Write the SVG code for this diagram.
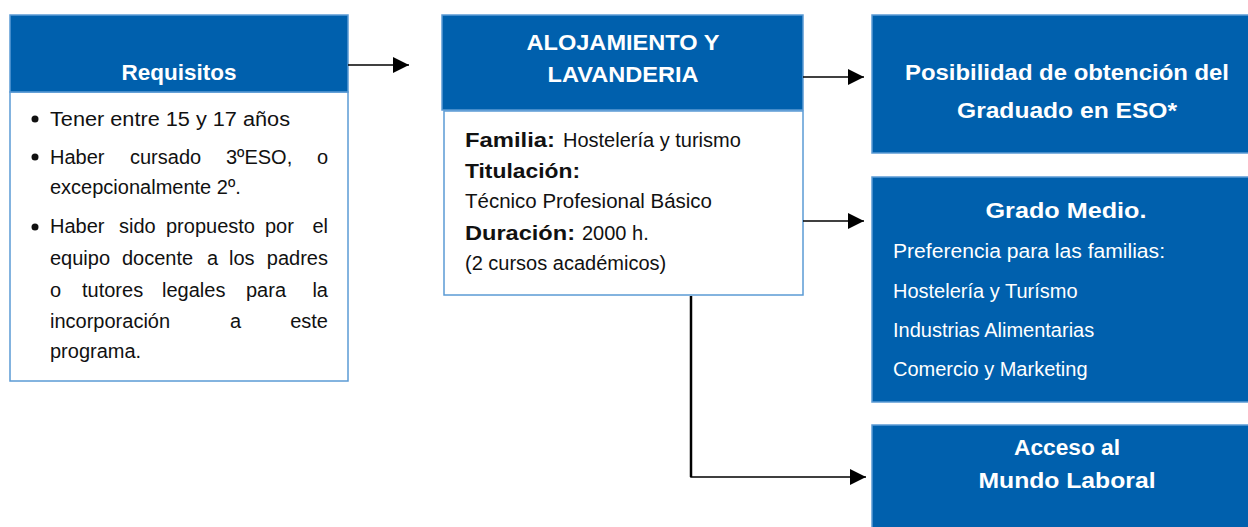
<svg xmlns="http://www.w3.org/2000/svg" width="1248" height="527" viewBox="0 0 1248 527">
<style>
.hdr{fill:#0060ad;stroke:#5b9bd5;stroke-width:1.5}
.body{fill:#ffffff;stroke:#5b9bd5;stroke-width:1.5}
.t{font-family:"Liberation Sans",Arial,sans-serif;font-size:20px;fill:#111111}
.b{font-weight:bold}
.w{fill:#ffffff}
.h{font-family:"Liberation Sans",Arial,sans-serif;font-weight:bold;font-size:22px;fill:#ffffff;text-anchor:middle}
.c{stroke:#000000;stroke-width:1.5;fill:none}
</style>
<defs>
<marker id="ah" markerUnits="userSpaceOnUse" markerWidth="16" markerHeight="16" refX="16" refY="8" orient="auto">
<path d="M0,0 L16,8 L0,16 z" fill="#000000"/>
</marker>
</defs>
<rect width="1248" height="527" fill="#ffffff"/>

<g id="requisitos">
<rect class="body" x="10" y="92" width="338" height="289"/>
<rect class="hdr" x="10" y="15" width="338" height="77"/>
<text class="h" x="179" y="80" textLength="115" lengthAdjust="spacingAndGlyphs">Requisitos</text>
<g fill="#111111">
<circle cx="35" cy="119" r="3.5"/>
<circle cx="35" cy="157" r="3.5"/>
<circle cx="35" cy="227" r="3.5"/>
</g>
<text class="t" x="50" y="126" textLength="240" lengthAdjust="spacingAndGlyphs">Tener entre 15 y 17 años</text>
<text class="t" y="164"><tspan x="50">Haber</tspan><tspan x="130">cursado</tspan><tspan x="226">3ºESO,</tspan><tspan x="328" text-anchor="end">o</tspan></text>
<text class="t" x="50" y="194">excepcionalmente 2º.</text>
<text class="t" y="233"><tspan x="50">Haber</tspan><tspan x="119">sido</tspan><tspan x="166">propuesto</tspan><tspan x="265">por</tspan><tspan x="328" text-anchor="end">el</tspan></text>
<text class="t" y="265"><tspan x="50">equipo</tspan><tspan x="122">docente</tspan><tspan x="207">a</tspan><tspan x="229">los</tspan><tspan x="328" text-anchor="end">padres</tspan></text>
<text class="t" y="297"><tspan x="50">o</tspan><tspan x="82">tutores</tspan><tspan x="162">legales</tspan><tspan x="246">para</tspan><tspan x="328" text-anchor="end">la</tspan></text>
<text class="t" y="328"><tspan x="50">incorporación</tspan><tspan x="230">a</tspan><tspan x="328" text-anchor="end">este</tspan></text>
<text class="t" x="50" y="358">programa.</text>
</g>

<g id="alojamiento">
<rect class="body" x="444" y="111" width="359" height="184"/>
<rect class="hdr" x="442" y="15" width="361" height="95"/>
<text class="h" x="623" y="50" textLength="193" lengthAdjust="spacingAndGlyphs">ALOJAMIENTO Y</text>
<text class="h" x="623" y="82" textLength="151" lengthAdjust="spacingAndGlyphs">LAVANDERIA</text>
<text class="t b" x="465" y="147" font-size="21" textLength="90" lengthAdjust="spacingAndGlyphs">Familia:</text>
<text class="t" x="563" y="147">Hostelería y turismo</text>
<text class="t b" x="465" y="178" font-size="21" textLength="115" lengthAdjust="spacingAndGlyphs">Titulación:</text>
<text class="t" x="465" y="208" textLength="247" lengthAdjust="spacingAndGlyphs">Técnico Profesional Básico</text>
<text class="t b" x="465" y="240" font-size="21" textLength="110" lengthAdjust="spacingAndGlyphs">Duración:</text>
<text class="t" x="582" y="240">2000 h.</text>
<text class="t" x="465" y="270">(2 cursos académicos)</text>
</g>

<g id="graduado">
<rect class="hdr" x="872" y="15" width="390" height="138"/>
<text class="h" x="1067" y="80" textLength="324" lengthAdjust="spacingAndGlyphs">Posibilidad de obtención del</text>
<text class="h" x="1067" y="118" textLength="220" lengthAdjust="spacingAndGlyphs">Graduado en ESO*</text>
</g>

<g id="grado-medio">
<rect class="hdr" x="872" y="177" width="390" height="225"/>
<text class="h" x="1066" y="218" textLength="161" lengthAdjust="spacingAndGlyphs">Grado Medio.</text>
<text class="t w" x="893" y="258" textLength="272" lengthAdjust="spacingAndGlyphs">Preferencia para las familias:</text>
<text class="t w" x="893" y="298">Hostelería y Turísmo</text>
<text class="t w" x="893" y="337">Industrias Alimentarias</text>
<text class="t w" x="893" y="376">Comercio y Marketing</text>
</g>

<g id="mundo-laboral">
<rect class="hdr" x="872" y="425" width="390" height="120"/>
<text class="h" x="1067" y="455" textLength="106" lengthAdjust="spacingAndGlyphs">Acceso al</text>
<text class="h" x="1067" y="488" textLength="177" lengthAdjust="spacingAndGlyphs">Mundo Laboral</text>
</g>

<g id="connectors">
<line class="c" x1="348" y1="65" x2="409" y2="65" marker-end="url(#ah)"/>
<line class="c" x1="803" y1="77" x2="864" y2="77" marker-end="url(#ah)"/>
<line class="c" x1="803" y1="221" x2="864" y2="221" marker-end="url(#ah)"/>
<polyline class="c" points="691,296 691,477 866,477" marker-end="url(#ah)"/>
<line x1="691" y1="296" x2="691" y2="477" stroke="#000000" stroke-width="2.5"/>
</g>
</svg>
